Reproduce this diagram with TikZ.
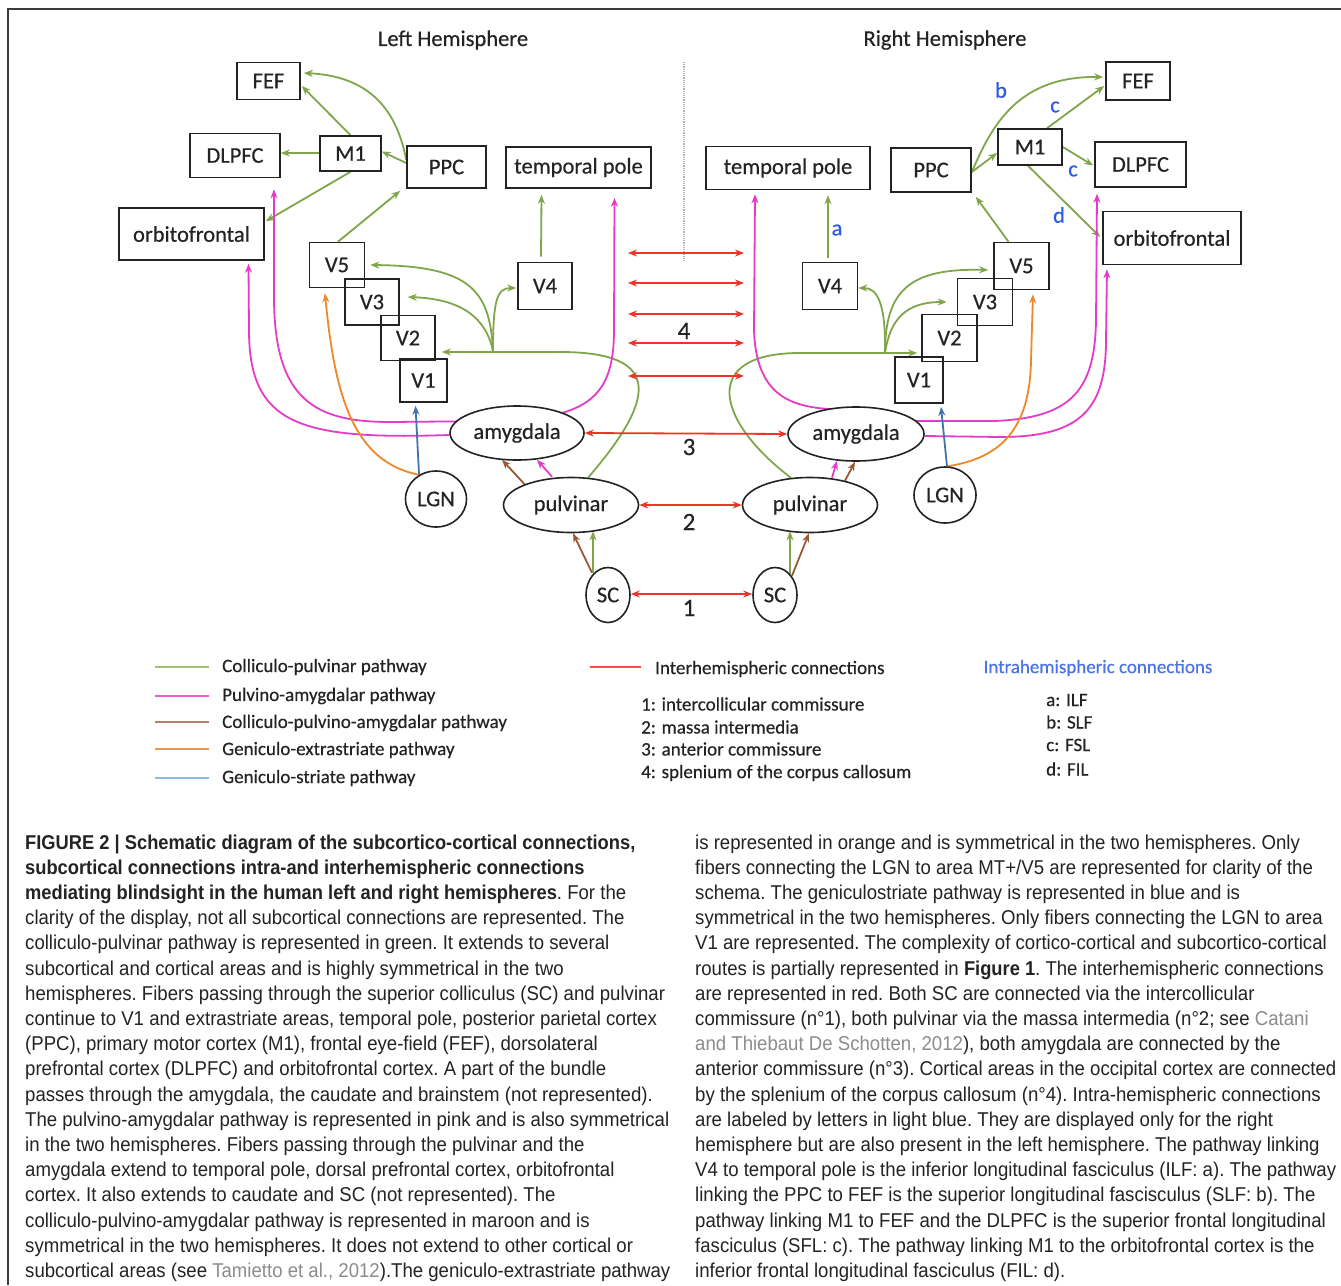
\documentclass[tikz,border=0pt]{standalone}
\usepackage{fontspec}
\setmainfont{Carlito}
\newfontfamily\dgmfam[FakeBold=0.4]{Carlito}
\newfontfamily\capfont[FakeStretch=0.93,BoldFeatures={FakeStretch=0.915}]{Liberation Sans}
\usetikzlibrary{arrows.meta,calc,shapes.geometric}
\definecolor{boxc}{RGB}{35,35,35}
\definecolor{grn}{RGB}{128,165,75}
\definecolor{pnk}{RGB}{228,60,200}
\definecolor{brn}{RGB}{150,90,55}
\definecolor{org}{RGB}{240,135,40}
\definecolor{blu}{RGB}{65,115,175}
\definecolor{red1}{RGB}{240,50,40}
\definecolor{lblue}{RGB}{45,90,235}
\definecolor{lgnd}{RGB}{75,115,230}
\definecolor{capc}{RGB}{35,35,35}
\definecolor{lnk}{RGB}{140,140,140}
\definecolor{frm}{RGB}{60,60,60}
\definecolor{lgrn}{RGB}{160,195,115}
\definecolor{lpnk}{RGB}{235,95,210}
\definecolor{lbrn}{RGB}{175,130,110}
\definecolor{lorg}{RGB}{240,150,70}
\definecolor{lblu}{RGB}{140,185,230}
\definecolor{lred}{RGB}{240,80,70}
\pgfdeclarelayer{bg}
\pgfsetlayers{bg,main}
\newcommand\dgmfont{\dgmfam\fontsize{22.5}{26}\selectfont}
\newcommand\lgfont{\dgmfam\fontsize{19}{22}\selectfont}
\newcommand\numfont{\dgmfam\fontsize{25}{28}\selectfont}
\newcommand\cpfont{\capfont\fontsize{20}{25}\selectfont\frenchspacing}
\begin{document}
\begin{tikzpicture}[x=1pt,y=-1pt,
  box/.style={draw=boxc, line width=1.6pt, inner sep=0pt, font=\dgmfont, text=boxc},
  oval/.style={ellipse, draw=boxc, line width=1.6pt, fill=white, inner sep=0pt, font=\dgmfont, text=boxc},
  atip/.style={-{Stealth[length=9pt,width=7pt]}},
  gline/.style={grn, line width=1.8pt, atip},
  pline/.style={pnk, line width=1.8pt, atip},
  pboth/.style={pnk, line width=1.8pt, {Stealth[length=9pt,width=7pt]}-{Stealth[length=9pt,width=7pt]}},
  bline/.style={brn, line width=1.8pt, atip},
  oline/.style={org, line width=1.8pt, atip},
  uline/.style={blu, line width=1.8pt, atip},
  rline/.style={red1, line width=1.8pt, {Stealth[length=9pt,width=7pt]}-{Stealth[length=9pt,width=7pt]}},
  lab/.style={font=\dgmfont, text=lblue, inner sep=0pt},
  numlab/.style={font=\numfont, text=boxc, inner sep=0pt},
  leg/.style={anchor=west, font=\lgfont, text=boxc, inner sep=0pt},
  captext/.style={anchor=base west, font=\cpfont, text=capc, inner sep=0pt},
]
\useasboundingbox (0,0) rectangle (1341,1285);
\begin{pgfonlayer}{bg}
\fill[white] (0,0) rectangle (1341,1285);
\end{pgfonlayer}
\coordinate (fa) at (8,1285);
\coordinate (fb) at (8,9);
\coordinate (fc) at (1341,9);
\draw[frm, line width=1.5pt] (fa) -- (fb) -- (fc);

% titles
\node[font=\dgmfont, text=boxc] (tL) at (453,40) {Left Hemisphere};
\node[font=\dgmfont, text=boxc] (tR) at (945,40) {Right Hemisphere};

% left hemisphere boxes
\node[box, minimum width=63, minimum height=37] (FEFL) at (268.5,81) {FEF};
\node[box, minimum width=90, minimum height=44] (DLPFCL) at (235,155.5) {DLPFC};
\node[box, minimum width=61, minimum height=35] (M1L) at (350.5,153.5) {M1};
\node[box, minimum width=79, minimum height=42] (PPCL) at (446.5,167) {PPC\hspace{18pt}};
\node[box, minimum width=145, minimum height=41] (tpL) at (578.5,167.5) {temporal pole};
\node[box, minimum width=145, minimum height=52] (orbL) at (191.5,234) {orbitofrontal};
\node[box, minimum width=55, minimum height=45] (V5L) at (337,265) {V5};
\node[box, minimum width=54, minimum height=46] (V3L) at (372,302) {V3};
\node[box, minimum width=54, minimum height=45] (V2L) at (408,338) {V2};
\node[box, minimum width=47, minimum height=43] (V1L) at (423.5,380.5) {V1};
\node[box, minimum width=54, minimum height=47] (V4L) at (545,286) {V4};

% right hemisphere boxes
\node[box, minimum width=164, minimum height=43] (tpR) at (788,168) {temporal pole};
\node[box, minimum width=80, minimum height=44] (PPCR) at (931,170) {PPC};
\node[box, minimum width=64, minimum height=36] (M1R) at (1030,147) {M1};
\node[box, minimum width=64, minimum height=38] (FEFR) at (1138,81) {FEF};
\node[box, minimum width=91, minimum height=45] (DLPFCR) at (1140.5,164.5) {DLPFC};
\node[box, minimum width=138, minimum height=53] (orbR) at (1172,238) {orbitofrontal};
\node[box, minimum width=55, minimum height=47] (V4R) at (830,286) {V4};
\node[box, minimum width=55, minimum height=47] (V5R) at (1021.5,266) {V5};
\node[box, minimum width=55, minimum height=47] (V3R) at (985,302) {V3};
\node[box, minimum width=55, minimum height=47] (V2R) at (949.5,338) {V2};
\node[box, minimum width=48, minimum height=46] (V1R) at (919,380) {V1};

% subcortical ovals
\node[oval, minimum width=134, minimum height=54] (amyL) at (517,433) {amygdala};
\node[oval, minimum width=135, minimum height=55] (pulL) at (571,505) {pulvinar};
\node[oval, minimum width=61, minimum height=56] (LGNL) at (436,499) {LGN};
\node[oval, minimum width=44, minimum height=55] (SCL) at (608,595) {SC};
\node[oval, minimum width=136, minimum height=54] (amyR) at (856,434) {amygdala};
\node[oval, minimum width=135, minimum height=55] (pulR) at (810,505) {pulvinar};
\node[oval, minimum width=62, minimum height=56] (LGNR) at (945,495) {LGN};
\node[oval, minimum width=44, minimum height=55] (SCR) at (775,595) {SC};

% intrahemispheric labels
\node[lab] (la) at (837,230) {a};
\node[lab] (lb) at (1001,90) {b};
\node[lab] (lc1) at (1055,107) {c};
\node[lab] (lc2) at (1073,171) {c};
\node[lab] (ld) at (1059,215) {d};

% interhemispheric numbers
\node[numlab] (n4) at (684,331) {4};
\node[numlab] (n3) at (689,447) {3};
\node[numlab] (n2) at (689,522) {2};
\node[numlab] (n1) at (689,608) {1};

\begin{pgfonlayer}{bg}
% midline
\coordinate (dvt) at (684,62);
\coordinate (dvb) at (684,262);
\draw[black!30, densely dotted, line width=1.2pt] (dvt) -- (dvb);

% left green
\draw[gline] (M1L.north) -- ($(FEFL.east)+(1,5)$);
\draw[gline] ($(PPCL.west)+(0,-7)$) .. controls (396,105) and (365,76) .. ($(FEFL.east)+(3,-8)$);
\draw[gline] ($(PPCL.west)+(0,-4)$) -- ($(M1L.east)+(0,-2)$);
\draw[gline] ($(M1L.west)+(0,-0.5)$) -- ($(DLPFCL.east)+(0,-2.5)$);
\draw[gline] (M1L.south) -- ($(orbL.north east)+(1,14)$);
\draw[gline] ($(V5L.north)+(1,0)$) -- ($(PPCL.south west)+(-6,2)$);
\draw[gline] ($(V4L.north)+(-4,-5)$) -- ($(tpL.south)+(-37,6)$);
\coordinate (jL) at (493,351);
\draw[gline] (pulL.58) .. controls (655,400) and (665,352) .. (560,352) -- ($(V2L.east)+(6,14)$);
\draw[gline] (jL) .. controls (490,290) and (470,266) .. ($(V5L.east)+(5,0)$);
\draw[gline] (jL) .. controls (486,318) and (462,299) .. ($(V3L.east)+(8,-5)$);
\draw[gline] (jL) .. controls (493,300) and (497,288) .. ($(V4L.west)+(-1,2)$);

% right green
\draw[gline] (pulR.125) .. controls (715,420) and (700,353) .. (800,353) -- ($(V2R.west)+(-4,15)$);
\coordinate (jR) at (885,353);
\draw[gline] (jR) .. controls (886,300) and (876,288) .. ($(V4R.east)+(0,2)$);
\draw[gline] (jR) .. controls (885,290) and (910,268) .. ($(V5R.west)+(-5,4)$);
\draw[gline] (jR) .. controls (890,320) and (905,302) .. ($(V3R.west)+(-10,0)$);
\draw[gline] ($(V4R.north)+(-2,-4)$) -- ($(tpR.south)+(40,5)$);
\draw[gline] ($(V5R.north)+(-13,0)$) -- ($(PPCR.south east)+(4,4)$);
\draw[gline] ($(PPCR.east)+(0,2)$) -- ($(M1R.west)+(0,6)$);
\draw[gline] ($(PPCR.east)+(0,2)$) .. controls (992,125) and (1018,76) .. ($(FEFR.west)+(-2,-4)$);
\draw[gline] ($(M1R.north)+(17,0)$) -- ($(FEFR.west)+(-1,5)$);
\draw[gline] (M1R.east) -- ($(DLPFCR.west)+(-1,1)$);
\draw[gline] ($(M1R.south)+(-2,0)$) -- ($(orbR.west)+(-2,-1)$);

% pink
\draw[pboth] ($(DLPFCL.south)+(39,11)$) -- (274,300) .. controls (275,400) and (315,422) .. (390,422) -- (500,421) .. controls (590,418) and (614,395) .. (614,330) -- ($(tpL.south)+(36,9)$);
\draw[pline] ($(amyL.west)+(0,2)$) .. controls (300,440) and (249,425) .. (249,330) -- ($(orbL.south)+(57,3)$);
\draw[pboth] ($(tpR.south)+(-33,4)$) -- (754,330) .. controls (756,395) and (790,406) .. (828,409) -- (916,421) -- (994,421) .. controls (1070,418) and (1095,392) .. (1096,320) -- ($(DLPFCR.south)+(-43.5,6)$);
\draw[pline] ($(amyR.east)+(0,2)$) -- (1000,437) .. controls (1080,437) and (1106,410) .. (1106,340) -- ($(orbR.south)+(-65,4)$);
\draw[pline] ($(pulL.north)+(-19,0)$) -- ($(amyL.south)+(20,-1)$);
\draw[pline] ($(pulR.north)+(22,1)$) -- ($(amyR.south)+(-19,-1)$);

% brown and short green
\draw[bline] ($(pulL.north)+(-46,8)$) -- ($(amyL.south)+(-15,-1)$);
\draw[bline] ($(SCL.north)+(-16,6)$) -- ($(pulL.south)+(2,0)$);
\draw[gline] ($(SCL.north)+(-15,6)$) -- ($(pulL.south)+(22,-2)$);
\draw[gline] ($(SCR.north)+(15,7)$) -- ($(pulR.south)+(-20,-2)$);
\draw[bline] ($(SCR.north)+(17,9)$) -- ($(pulR.south)+(-1,0)$);
\draw[bline] ($(pulR.north)+(35,4)$) -- ($(amyR.south)+(-1,0)$);

% geniculate
\draw[uline] (LGNL.125) -- ($(V1L.south)+(-8,3)$);
\draw[uline] ($(LGNR.north)+(2,0)$) -- ($(V1R.south)+(22,3)$);
\draw[oline] (LGNL.125) .. controls (355,462) and (335,400) .. ($(V5L.south)+(-12,5)$);
\draw[oline] ($(LGNR.north)+(3,0)$) .. controls (1000,458) and (1030,430) .. (1031,360) -- ($(V5R.south)+(11.5,4)$);

% red interhemispheric
\foreach \yy [count=\k] in {253,283,314,343,376} {
  \coordinate (rl\k) at (628,\yy);
  \coordinate (rr\k) at (744,\yy);
  \draw[rline] (rl\k) -- (rr\k);
}
\draw[rline] (amyL.east) -- (amyR.west);
\draw[rline] (pulL.east) -- (pulR.west);
\draw[rline] ($(SCL.east)+(0,-1)$) -- ($(SCR.west)+(0,-1)$);
\end{pgfonlayer}

% legend
\draw[lgrn, line width=2pt] (155,667) -- (209,667);
\draw[lpnk, line width=2pt] (155,696) -- (209,696);
\draw[lbrn, line width=2pt] (155,722) -- (209,722);
\draw[lorg, line width=2pt] (155,749) -- (209,749);
\draw[lblu, line width=2pt] (155,778) -- (209,778);
\node[leg] (lg1) at (222,667) {Colliculo-pulvinar pathway};
\node[leg] (lg2) at (222,696) {Pulvino-amygdalar pathway};
\node[leg] (lg3) at (222,723) {Colliculo-pulvino-amygdalar pathway};
\node[leg] (lg4) at (222,750) {Geniculo-extrastriate pathway};
\node[leg] (lg5) at (222,778) {Geniculo-striate pathway};
\draw[lred, line width=2pt] (590,667) -- (641,667);
\node[leg] (lr0) at (655,669) {Interhemispheric connections};
\node[leg] (lr1) at (641,704) {1: intercollicular commissure};
\node[leg] (lr2) at (641,727) {2: massa intermedia};
\node[leg] (lr3) at (641,749) {3: anterior commissure};
\node[leg] (lr4) at (641,773) {4: splenium of the corpus callosum};
\node[leg, anchor=center, text=lgnd] (li0) at (1098,668) {Intrahemispheric connections};
\node[leg] (li1) at (1046,700) {a: ILF};
\node[leg] (li2) at (1046,722) {b: SLF};
\node[leg] (li3) at (1046,745) {c: FSL};
\node[leg] (li4) at (1046,769) {d: FIL};

% caption
\foreach \t [count=\i from 0] in {
{\textbf{FIGURE 2 | Schematic diagram of the subcortico-cortical connections,}},
{\textbf{subcortical connections intra-and interhemispheric connections}},
{\textbf{mediating blindsight in the human left and right hemispheres}. For the},
{clarity of the display, not all subcortical connections are represented. The},
{colliculo-pulvinar pathway is represented in green. It extends to several},
{subcortical and cortical areas and is highly symmetrical in the two},
{hemispheres. Fibers passing through the superior colliculus (SC) and pulvinar},
{continue to V1 and extrastriate areas, temporal pole, posterior parietal cortex},
{(PPC), primary motor cortex (M1), frontal eye-field (FEF), dorsolateral},
{prefrontal cortex (DLPFC) and orbitofrontal cortex. A part of the bundle},
{passes through the amygdala, the caudate and brainstem (not represented).},
{The pulvino-amygdalar pathway is represented in pink and is also symmetrical},
{in the two hemispheres. Fibers passing through the pulvinar and the},
{amygdala extend to temporal pole, dorsal prefrontal cortex, orbitofrontal},
{cortex. It also extends to caudate and SC (not represented). The},
{colliculo-pulvino-amygdalar pathway is represented in maroon and is},
{symmetrical in the two hemispheres. It does not extend to other cortical or},
{subcortical areas (see {\color{lnk}Tamietto et al., 2012}).The geniculo-extrastriate pathway}}
  \node[captext] (cl\i) at (25,849+25.2*\i) {\t};
\foreach \t [count=\i from 0] in {
{is represented in orange and is symmetrical in the two hemispheres. Only},
{fibers connecting the LGN to area MT+/V5 are represented for clarity of the},
{schema. The geniculostriate pathway is represented in blue and is},
{symmetrical in the two hemispheres. Only fibers connecting the LGN to area},
{V1 are represented. The complexity of cortico-cortical and subcortico-cortical},
{routes is partially represented in \textbf{Figure 1}. The interhemispheric connections},
{are represented in red. Both SC are connected via the intercollicular},
{commissure (n°1), both pulvinar via the massa intermedia (n°2; see {\color{lnk}Catani}},
{{\color{lnk}and Thiebaut De Schotten, 2012}), both amygdala are connected by the},
{anterior commissure (n°3). Cortical areas in the occipital cortex are connected},
{by the splenium of the corpus callosum (n°4). Intra-hemispheric connections},
{are labeled by letters in light blue. They are displayed only for the right},
{hemisphere but are also present in the left hemisphere. The pathway linking},
{V4 to temporal pole is the inferior longitudinal fasciculus (ILF: a). The pathway},
{linking the PPC to FEF is the superior longitudinal fascisculus (SLF: b). The},
{pathway linking M1 to FEF and the DLPFC is the superior frontal longitudinal},
{fasciculus (SFL: c). The pathway linking M1 to the orbitofrontal cortex is the},
{inferior frontal longitudinal fasciculus (FIL: d).}}
  \node[captext] (cr\i) at (695,849+25.2*\i) {\t};
\end{tikzpicture}
\end{document}
